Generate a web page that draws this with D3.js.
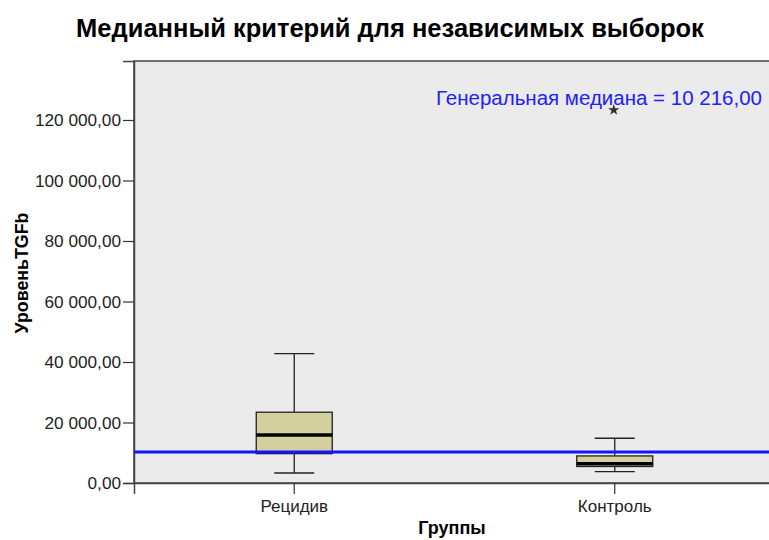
<!DOCTYPE html>
<html>
<head>
<meta charset="utf-8">
<script src="https://cdn.jsdelivr.net/npm/d3@7"></script>
<style>
  html, body { margin: 0; padding: 0; background: #ffffff; }
  svg { display: block; }
  text { font-family: "Liberation Sans", Arial, sans-serif; }
</style>
</head>
<body>
<svg id="chart" width="769" height="540"></svg>
<script>
// Groups and their box-plot summaries (TGFb level)
const groups = ["Рецидив", "Контроль"];
const whiskerLow = [3300, 3750];
const q1 = [9700, 5450];
const median = [15900, 6400];
const q3 = [23400, 8950];
const whiskerHigh = [42800, 14800];
// Extreme values (group, value)
const extremeGroups = ["Контроль"];
const extremeValues = [123300];
// Overall median across both samples
const grandMedian = 10216;
const yTicks = [0, 20000, 40000, 60000, 80000, 100000, 120000];

const svg = d3.select("#chart");
const margin = { left: 134, top: 61, right: -6, bottom: 57 };
const W = 769, H = 540;
const plotW = W - margin.left - margin.right;
const plotH = H - margin.top - margin.bottom;

const x = d3.scaleBand().domain(groups).range([margin.left, margin.left + plotW]);
const y = d3.scaleLinear().domain([0, 139500]).range([margin.top + plotH, margin.top]);

const fmt = v => {
  const s = d3.format(",.2f")(v);
  return s.replace(/,/g, " ").replace(".", ",");
};

// Title
svg.append("text")
  .attr("x", 390).attr("y", 37)
  .attr("text-anchor", "middle")
  .attr("font-weight", "bold")
  .attr("font-size", 25.5)
  .attr("fill", "#000")
  .text("Медианный критерий для независимых выборок");

// Plot background
svg.append("rect")
  .attr("x", margin.left).attr("y", margin.top)
  .attr("width", plotW).attr("height", plotH)
  .attr("fill", "#ebebeb")
  .attr("stroke", "#444")
  .attr("stroke-width", 1.5);

// Y axis
const yAxis = svg.append("g")
  .attr("transform", `translate(${margin.left},0)`)
  .call(d3.axisLeft(y).tickValues(yTicks).tickFormat(fmt).tickSize(11).tickPadding(2));
yAxis.select(".domain").attr("stroke", "#444").attr("stroke-width", 1.5);
yAxis.selectAll(".tick line").attr("stroke", "#333").attr("stroke-width", 1.2);
yAxis.selectAll(".tick text")
  .attr("font-size", 17.2).attr("fill", "#222")
  .attr("font-family", "Liberation Sans, Arial, sans-serif");

// X axis
const xAxis = svg.append("g")
  .attr("transform", `translate(0,${margin.top + plotH})`)
  .call(d3.axisBottom(x).tickSize(11).tickPadding(6));
xAxis.select(".domain").attr("stroke", "#444").attr("stroke-width", 1.5);
xAxis.selectAll(".tick line").attr("stroke", "#333").attr("stroke-width", 1.2);
xAxis.selectAll(".tick text")
  .attr("font-size", 17).attr("fill", "#222")
  .attr("font-family", "Liberation Sans, Arial, sans-serif");

// Axis titles
svg.append("text")
  .attr("x", 452).attr("y", 534)
  .attr("text-anchor", "middle")
  .attr("font-weight", "bold").attr("font-size", 18)
  .text("Группы");
svg.append("text")
  .attr("transform", "translate(28,273) rotate(-90)")
  .attr("text-anchor", "middle")
  .attr("font-weight", "bold").attr("font-size", 17.8)
  .text("УровеньTGFb");

// Box plots
const boxW = 76, capW = 40;
const data = groups.map((g, i) => ({
  g, lo: whiskerLow[i], q1: q1[i], med: median[i], q3: q3[i], hi: whiskerHigh[i]
}));
const bx = svg.append("g");
data.forEach(d => {
  const cx = x(d.g) + x.bandwidth() / 2;
  const g = bx.append("g");
  // whiskers
  g.append("line").attr("x1", cx).attr("x2", cx).attr("y1", y(d.hi)).attr("y2", y(d.q3))
    .attr("stroke", "#222").attr("stroke-width", 1.3);
  g.append("line").attr("x1", cx).attr("x2", cx).attr("y1", y(d.q1)).attr("y2", y(d.lo))
    .attr("stroke", "#222").attr("stroke-width", 1.3);
  g.append("line").attr("x1", cx - capW / 2).attr("x2", cx + capW / 2).attr("y1", y(d.hi)).attr("y2", y(d.hi))
    .attr("stroke", "#222").attr("stroke-width", 1.3);
  g.append("line").attr("x1", cx - capW / 2).attr("x2", cx + capW / 2).attr("y1", y(d.lo)).attr("y2", y(d.lo))
    .attr("stroke", "#222").attr("stroke-width", 1.3);
  // box
  g.append("rect")
    .attr("x", cx - boxW / 2).attr("y", y(d.q3))
    .attr("width", boxW).attr("height", y(d.q1) - y(d.q3))
    .attr("fill", "#d4cf9e").attr("stroke", "#222").attr("stroke-width", 1.3);
  // median
  g.append("line").attr("x1", cx - boxW / 2).attr("x2", cx + boxW / 2)
    .attr("y1", y(d.med)).attr("y2", y(d.med))
    .attr("stroke", "#000").attr("stroke-width", 3.5);
});

// Extreme value markers
extremeGroups.forEach((g, i) => {
  const cx = x(g) + x.bandwidth() / 2;
  svg.append("path")
    .attr("d", d3.symbol(d3.symbolStar, 40)())
    .attr("transform", `translate(${cx - 1},${y(extremeValues[i])})`)
    .attr("fill", "#333");
});

// Grand median reference line
svg.append("line")
  .attr("x1", margin.left).attr("x2", W)
  .attr("y1", y(grandMedian)).attr("y2", y(grandMedian))
  .attr("stroke", "#1414ff").attr("stroke-width", 3);

svg.append("text")
  .attr("x", 762).attr("y", 105)
  .attr("text-anchor", "end")
  .attr("font-size", 20.5)
  .attr("fill", "#2020ff")
  .text("Генеральная медиана = " + fmt(grandMedian));
</script>
</body>
</html>
